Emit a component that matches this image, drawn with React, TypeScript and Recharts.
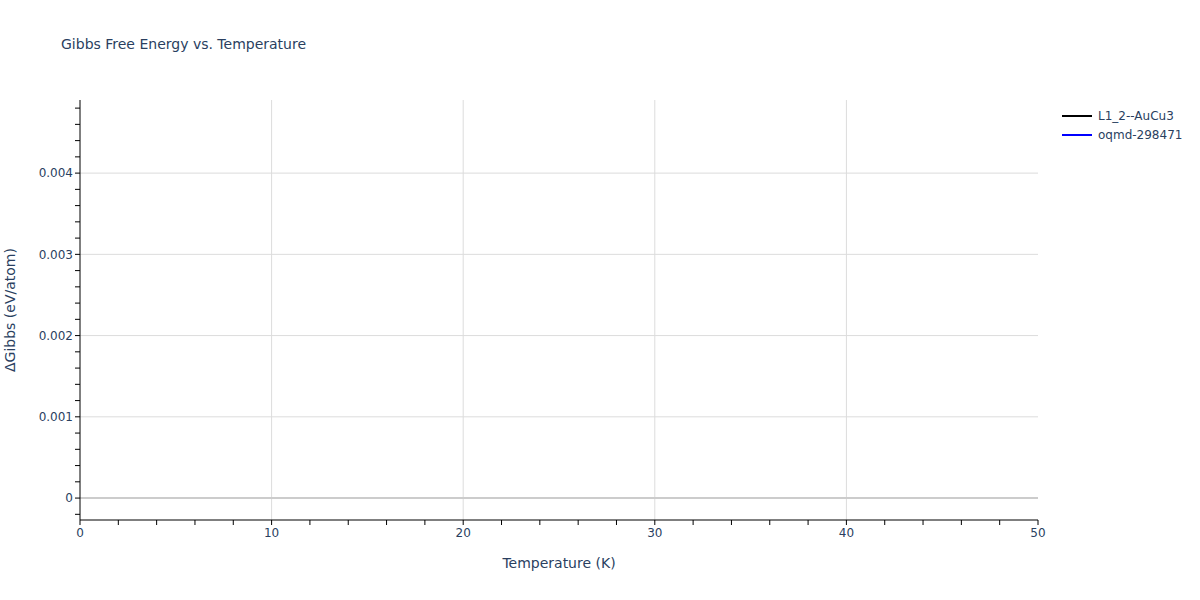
import { LineChart, Line, XAxis, YAxis, ReferenceLine } from "recharts";

const TEXT = "#2a3f5f";
const FONT = "'DejaVu Sans', Verdana, sans-serif";

// traces shown in the legend; no points are drawn in the reference
const seriesNames = ["L1_2--AuCu3", "oqmd-298471"];
const seriesColors = ["#000000", "#0000ff"];
const auCu3: { temperature: number; gibbs: number }[] = [];
const oqmd298471: { temperature: number; gibbs: number }[] = [];

const xTicks = [0, 2, 4, 6, 8, 10, 12, 14, 16, 18, 20, 22, 24, 26, 28, 30, 32, 34, 36, 38, 40, 42, 44, 46, 48, 50];
const xGrid = [10, 20, 30, 40];
const yTicks = [
  -0.0002, 0, 0.0002, 0.0004, 0.0006, 0.0008, 0.001, 0.0012, 0.0014, 0.0016, 0.0018, 0.002,
  0.0022, 0.0024, 0.0026, 0.0028, 0.003, 0.0032, 0.0034, 0.0036, 0.0038, 0.004, 0.0042,
  0.0044, 0.0046, 0.0048,
];
const yGrid = [0.001, 0.002, 0.003, 0.004];

const isMajorY = (v: number) => Math.abs(v * 1000 - Math.round(v * 1000)) < 1e-6;

function YTick({ x, y, payload }: any) {
  const v = payload.value as number;
  if (!isMajorY(v)) return <g />;
  const label = Math.abs(v) < 1e-12 ? "0" : v.toFixed(3);
  return (
    <text x={x} y={y} dy="0.355em" textAnchor="end" fill={TEXT} fontSize={12} fontFamily={FONT}>
      {label}
    </text>
  );
}

function XTick({ x, y, payload }: any) {
  const v = payload.value as number;
  if (v % 10 !== 0) return <g />;
  return (
    <text x={x} y={y} dy="0.71em" textAnchor="middle" fill={TEXT} fontSize={12} fontFamily={FONT}>
      {v}
    </text>
  );
}

export default function App() {
  return (
    <div style={{ position: "absolute", left: 0, top: 0, width: 1200, height: 600, background: "#fff", fontFamily: FONT }}>
      <div style={{ position: "absolute", left: 61, top: 36, fontSize: 14, color: TEXT }}>
        Gibbs Free Energy vs. Temperature
      </div>
      <LineChart width={1200} height={600} margin={{ top: 100, right: 162, bottom: 50, left: 10 }}>
        <XAxis
          type="number"
          dataKey="temperature"
          domain={[0, 50]}
          ticks={xTicks}
          interval={0}
          height={30}
          tickSize={5}
          tickMargin={3}
          axisLine={{ stroke: "#000" }}
          tickLine={{ stroke: "#000" }}
          tick={<XTick />}
          allowDataOverflow
        />
        <YAxis
          type="number"
          domain={[-0.00027, 0.0049]}
          ticks={yTicks}
          interval={0}
          width={70}
          tickSize={5}
          tickMargin={2}
          axisLine={{ stroke: "#000" }}
          tickLine={{ stroke: "#000" }}
          tick={<YTick />}
          allowDataOverflow
        />
        {xGrid.map((v) => (
          <ReferenceLine key={`x${v}`} x={v} stroke="#dcdcdc" strokeWidth={1} />
        ))}
        {yGrid.map((v) => (
          <ReferenceLine key={`y${v}`} y={v} stroke="#dcdcdc" strokeWidth={1} />
        ))}
        <ReferenceLine y={0} stroke="#cccccc" strokeWidth={2} />
        <Line data={auCu3} dataKey="gibbs" name={seriesNames[0]} stroke={seriesColors[0]} strokeWidth={2} dot={false} isAnimationActive={false} />
        <Line data={oqmd298471} dataKey="gibbs" name={seriesNames[1]} stroke={seriesColors[1]} strokeWidth={2} dot={false} isAnimationActive={false} />
      </LineChart>
      <div
        style={{
          position: "absolute",
          left: 10,
          top: 310,
          transform: "translate(-50%, -50%) rotate(-90deg)",
          fontSize: 14,
          color: TEXT,
          whiteSpace: "nowrap",
        }}
      >
        ΔGibbs (eV/atom)
      </div>
      <div
        style={{
          position: "absolute",
          left: 559,
          top: 563,
          transform: "translate(-50%, -50%)",
          fontSize: 14,
          color: TEXT,
          whiteSpace: "nowrap",
        }}
      >
        Temperature (K)
      </div>
      <div style={{ position: "absolute", left: 1062, top: 106 }}>
        {seriesNames.map((name, i) => (
          <div key={name} style={{ display: "flex", alignItems: "center", height: 19 }}>
            <span style={{ display: "inline-block", width: 30, height: 2, background: seriesColors[i] }} />
            <span style={{ marginLeft: 6, fontSize: 12, color: TEXT }}>{name}</span>
          </div>
        ))}
      </div>
    </div>
  );
}
